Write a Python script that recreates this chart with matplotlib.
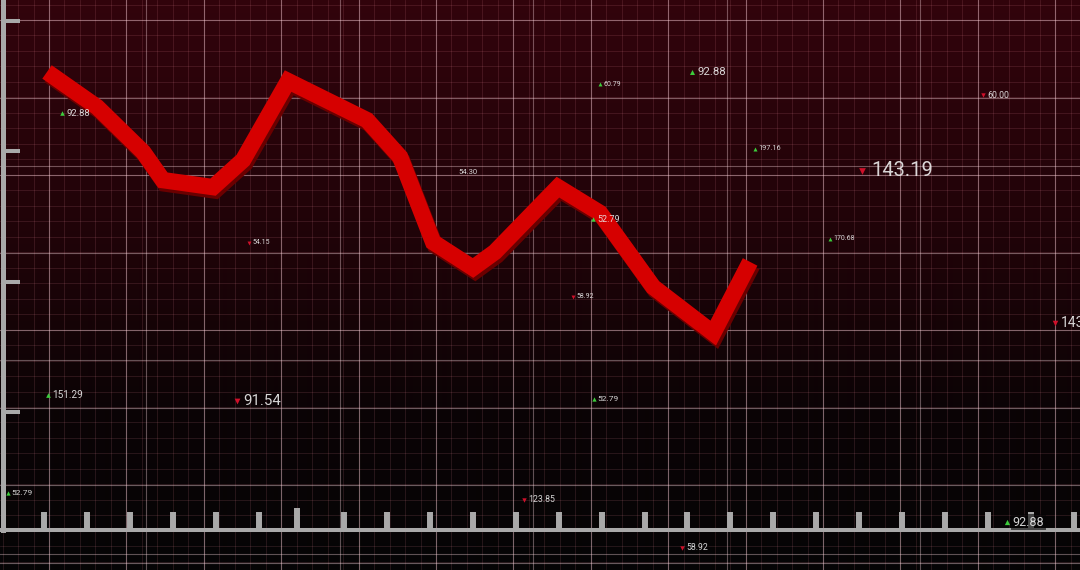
import numpy as np
import matplotlib
matplotlib.use('Agg')
import matplotlib.pyplot as plt
import matplotlib.patheffects as pe

# price line: x in bottom-tick steps, y in price units
line_x = [1.07, 2.24, 3.31, 3.77, 4.94, 5.64, 6.69, 8.53, 9.30, 10.07,
          11.00, 11.51, 12.98, 13.96, 15.20, 16.60, 17.46]
line_y = [180.5, 167.0, 149.8, 139.0, 136.3, 146.7, 177.0, 162.0, 147.9, 115.2,
          105.3, 111.4, 136.3, 126.4, 98.0, 80.3, 107.6]

y_ticks = [50, 100, 150, 200]
x_ticks = [1, 2, 3, 4, 5, 6, 8, 9, 10, 11, 12, 13, 14, 15, 16, 17, 18, 19,
           20, 21, 22, 23, 24, 25]
x_tall_tick = [6.9]

# floating quote labels
quote_text = ["92.88", "60.79", "92.88", "60.00", "197.16", "54.30", "143.19",
              "54.15", "52.79", "170.68", "58.92", "143.19", "151.29", "91.54",
              "52.79", "52.79", "123.85", "58.92", "92.88"]
quote_dir = ["up", "up", "up", "down", "up", "none", "down",
             "down", "up", "up", "down", "down", "up", "down",
             "up", "up", "down", "down", "up"]

# label layout (pixel positions of the marker, font sizes)
quote_pos = [(62, 113), (600, 84), (692, 72), (983, 95), (755, 149), (455, 172),
             (862, 171), (249, 243), (593, 219), (830, 239), (573, 297),
             (1055, 323), (48, 395), (237, 401), (594, 399), (8, 493),
             (524, 500), (682, 548), (1007, 522)]
quote_size = [6.8, 5.0, 8.2, 6.3, 5.3, 5.5, 14.5, 5.0, 6.5, 5.0, 5.0,
              10.0, 7.2, 10.8, 6.0, 6.0, 6.3, 6.3, 9.0]

W, H = 1080, 570
fig = plt.figure(figsize=(W / 100, H / 100), dpi=100)

# background: gradient + grids, in pixel coordinates
bg = fig.add_axes([0, 0, 1, 1])
bg.set_xlim(0, W)
bg.set_ylim(H, 0)
bg.axis('off')

stops = np.array([0.0, 0.45, 0.72, 1.0])
cols = np.array([[50, 4, 12], [30, 3, 8], [11, 3, 5], [5, 5, 5]]) / 255.0
t = np.linspace(0, 1, H)
grad = np.stack([np.interp(t, stops, cols[:, i]) for i in range(3)], axis=-1)
bg.imshow(grad[:, None, :], extent=[0, W, H, 0], aspect='auto',
          interpolation='bilinear', zorder=0)

fine = 77.4 / 5
for x in np.arange(49 - fine * 3, W, fine):
    bg.axvline(x, color='#ff9aaa', lw=0.55, alpha=0.16, zorder=1)
for y in np.arange(20 - fine, H, fine):
    bg.axhline(y, color='#ff9aaa', lw=0.55, alpha=0.16, zorder=1)
for x in np.arange(49, W, 77.4):
    bg.axvline(x, color='#ffdde4', lw=0.8, alpha=0.4, zorder=2)
for y in np.arange(20, H, 77.5):
    bg.axhline(y, color='#ffdde4', lw=0.8, alpha=0.4, zorder=2)
for x in np.arange(146, W, 193.5):
    bg.axvline(x, color='#ffdde4', lw=0.8, alpha=0.36, zorder=2)
for y in np.arange(166, H, 194):
    bg.axhline(y, color='#ffdde4', lw=0.8, alpha=0.36, zorder=2)

# data axes
ax = fig.add_axes([0, 0, 1, 1], zorder=3)
ax.patch.set_alpha(0)
ax.set_xlim(-0.026, 25.15)
ax.set_ylim(-10.6, 208.1)

ax.plot(line_x, line_y, color='#d60000', lw=11.8, solid_joinstyle='miter',
        solid_capstyle='butt', zorder=4,
        path_effects=[pe.SimpleLineShadow(offset=(1.5, -2.5), shadow_color='#6a0000',
                                          alpha=1.0), pe.Normal()])

for s in ['top', 'right']:
    ax.spines[s].set_visible(False)
ax.spines['left'].set_position(('axes', 2.5 / W))
ax.spines['left'].set_bounds(4.7, 208.1)
ax.spines['left'].set_color('#a9a9a9')
ax.spines['left'].set_linewidth(3.6)
ax.spines['bottom'].set_position(('data', 4.7))
ax.spines['bottom'].set_color('#a9a9a9')
ax.spines['bottom'].set_linewidth(2.9)

ax.set_yticks(y_ticks)
ax.set_xticks(x_ticks)
ax.set_xticks(x_tall_tick, minor=True)
ax.tick_params(axis='y', direction='in', length=12.2, width=2.9, color='#a9a9a9',
               labelleft=False)
ax.tick_params(axis='x', which='major', direction='in', length=13, width=4.3,
               color='#a9a9a9', labelbottom=False)
ax.tick_params(axis='x', which='minor', direction='in', length=16, width=4.3,
               color='#a9a9a9', labelbottom=False)
ax.tick_params(axis='y', which='minor', left=False)

# quote labels, drawn on top of line and axis
for txt, d, (px, py), fs in zip(quote_text, quote_dir, quote_pos, quote_size):
    if d == 'up':
        ax.scatter(px, py, marker='^', s=fs * 1.6, color='#3ccc3c',
                   linewidths=0, zorder=6, transform=bg.transData)
    elif d == 'down':
        ax.scatter(px, py, marker='v', s=fs * 1.6, color='#d0102a',
                   linewidths=0, zorder=6, transform=bg.transData)
    ax.annotate(txt, (px, py), xycoords=bg.transData,
                xytext=(fs * 0.45, 0), textcoords='offset points',
                ha='left', va='center', fontsize=fs, family='Roboto',
                color='#ececec', alpha=0.9, zorder=6,
                bbox=dict(boxstyle='square,pad=0.1', fc='#050505', ec='none',
                          alpha=0.6 if py > 500 else 0.0))

fig.savefig('out.png', dpi=100)
